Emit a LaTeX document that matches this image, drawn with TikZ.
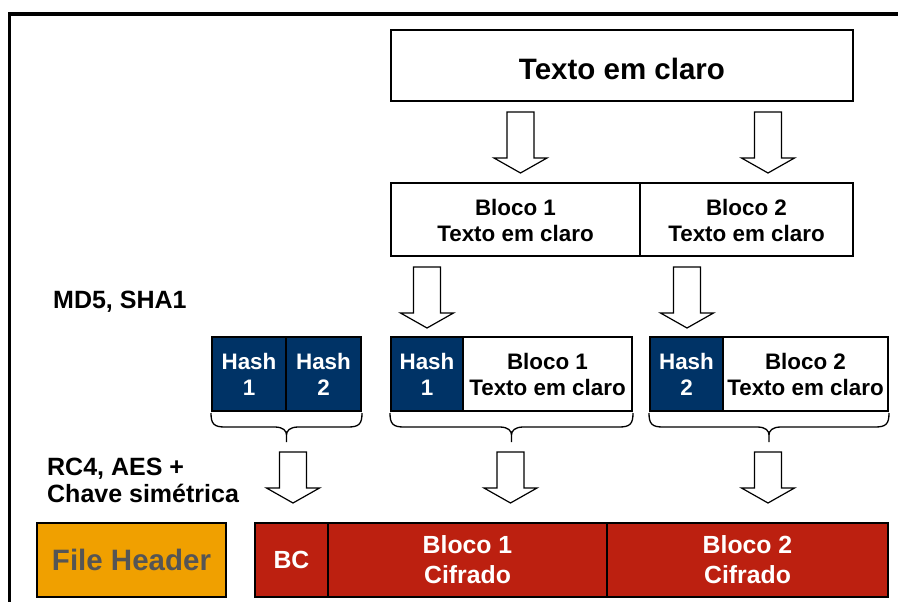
\documentclass[tikz,border=0pt]{standalone}
\usepackage{fontspec}
\setmainfont{Liberation Sans}
\usetikzlibrary{calc}
\definecolor{hashblue}{RGB}{0,51,102}
\definecolor{cipherred}{RGB}{188,32,16}
\definecolor{headerorange}{RGB}{240,160,0}
\definecolor{headertext}{RGB}{85,85,85}
% bold text at a given size and line distance
\newcommand\fs[2]{\bfseries\fontsize{#1}{#2}\selectfont}
% curly brace under a group of cells: from the lower-left to the lower-right corner
\newcommand\groupbrace[2]{%
  \draw[bracestyle] let \p1=(#1), \p2=(#2), \n1={(\x1+\x2)/2} in
    (\x1,\y1-1pt) .. controls (\x1,\y1-12pt) and (\x1+3pt,\y1-15pt) .. (\x1+14pt,\y1-15pt)
    -- (\n1-12pt,\y1-15pt) .. controls (\n1-3pt,\y1-15pt) and (\n1,\y1-19pt) .. (\n1,\y1-23pt)
    -- (\n1,\y1-30pt)
    (\n1,\y1-23pt) .. controls (\n1,\y1-19pt) and (\n1+3pt,\y1-15pt) .. (\n1+12pt,\y1-15pt)
    -- (\x2-14pt,\y1-15pt) .. controls (\x2-3pt,\y1-15pt) and (\x2,\y1-12pt) .. (\x2,\y1-1pt);}
\begin{document}
\begin{tikzpicture}[x=1pt,y=-1pt,
  cell/.style={draw=black,line width=2pt,inner sep=0pt,align=center,
    minimum height=74pt,font=\fs{22.4}{26},text height=43.5pt,text depth=0pt},
  plaincell/.style={cell,fill=white,text=black},
  hashcell/.style={cell,fill=hashblue,text=white},
  redcell/.style={cell,fill=cipherred,text=white,font=\fs{24.8}{30.5},
    text height=47pt,text depth=0pt},
  label/.style={inner sep=0pt,align=left,font=\fs{25}{26.7}},
  arrowline/.style={draw=black,fill=white,line width=1.2pt,line join=miter},
  bracestyle/.style={draw=black,line width=1.3pt},
  pics/downarrow/.style={code={
    \draw[arrowline] (-13.5,0) -- (13.5,0) -- (13.5,#1-15) -- (26.5,#1-15)
      -- (0,#1) -- (-26.5,#1-15) -- (-13.5,#1-15) -- cycle;}}
]
\useasboundingbox (0,0) rectangle (898,602);
\fill[white] (0,0) rectangle (898,602);

% outer frame
\draw[line width=3.5pt] (9.5,602) -- (9.5,14) -- (898,14);

% plaintext
\node[plaincell,minimum width=462pt,minimum height=71pt,line width=2.6pt,
  font=\fs{29.5}{34},text height=29pt,text depth=0pt]
  (plain) at (622,65.5) {Texto em claro};

% plaintext split into blocks
\node[plaincell,minimum width=249pt,minimum height=73pt] (b1) at (515.5,219.5) {Bloco 1\\Texto em claro};
\node[plaincell,minimum width=213pt,minimum height=73pt] (b2) at (746.5,219.5) {Bloco 2\\Texto em claro};

% hashes and hashed blocks
\node[hashcell,minimum width=74pt] (h1L) at (249,374) {Hash\\1};
\node[hashcell,minimum width=75pt] (h2L) at (323.5,374) {Hash\\2};
\node[hashcell,minimum width=72pt] (h1M) at (427,374) {Hash\\1};
\node[plaincell,minimum width=169pt] (bM) at (547.5,374) {Bloco 1\\Texto em claro};
\node[hashcell,minimum width=73pt] (h2R) at (686.5,374) {Hash\\2};
\node[plaincell,minimum width=165pt] (bR) at (805.5,374) {Bloco 2\\Texto em claro};

% encrypted file
\node[cell,fill=headerorange,text=headertext,minimum width=189pt,
  font=\fs{29.5}{34},text height=21.4pt,text depth=0pt] (fh) at (131.5,560) {File Header};
\node[redcell,minimum width=73pt,text height=17pt,text depth=0pt] (bc) at (291.5,560) {BC};
\node[redcell,minimum width=279pt] (c1) at (467.5,560) {Bloco 1\\Cifrado};
\node[redcell,minimum width=281pt] (c2) at (747.5,560) {Bloco 2\\Cifrado};

% algorithm labels
\node[label,anchor=base west] (hashalg) at (53,308) {MD5, SHA1};
\node[label,anchor=base west] (cipheralg) at (47,502) {RC4, AES +\\Chave simétrica};

% braces under each group
\groupbrace{h1L.south west}{h2L.south east}
\groupbrace{h1M.south west}{bM.south east}
\groupbrace{h2R.south west}{bR.south east}

% hollow arrows
\coordinate (a1) at (520.5,112);
\coordinate (a2) at (768,112);
\coordinate (a3) at (427,267);
\coordinate (a4) at (687,267);
\coordinate (a5) at (293,452);
\coordinate (a6) at (510.5,452);
\coordinate (a7) at (768,452);
\pic at (a1) {downarrow=61};
\pic at (a2) {downarrow=61};
\pic at (a3) {downarrow=61};
\pic at (a4) {downarrow=61};
\pic at (a5) {downarrow=51};
\pic at (a6) {downarrow=51};
\pic at (a7) {downarrow=51};
\end{tikzpicture}
\end{document}
